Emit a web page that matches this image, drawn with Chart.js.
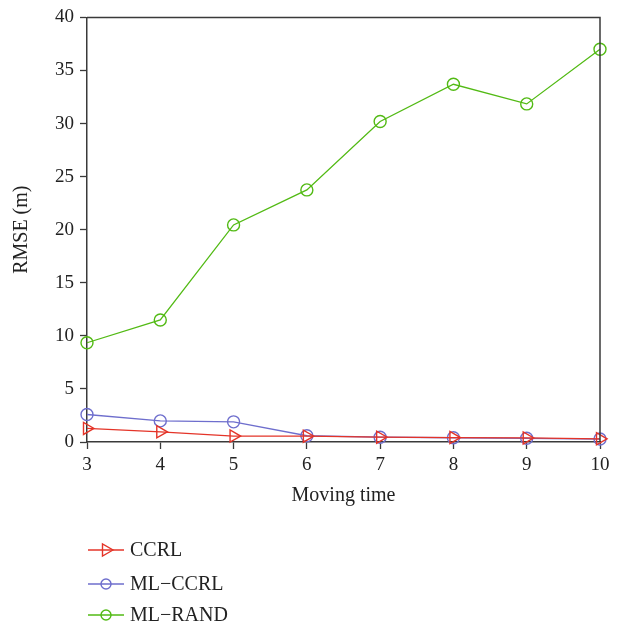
<!DOCTYPE html>
<html>
<head>
<meta charset="utf-8">
<script src="https://cdn.jsdelivr.net/npm/chart.js@4"></script>
<style>
  html, body { margin: 0; padding: 0; background: #fff; }
  #wrap { width: 622px; height: 625px; }
</style>
</head>
<body>
<div id="wrap"><canvas id="myChart"></canvas></div>
<script>
// moving time steps and RMSE (m) per method
const movingTime = [3, 4, 5, 6, 7, 8, 9, 10];
const ccrl   = [1.28, 0.96, 0.56, 0.55, 0.45, 0.42, 0.38, 0.30];
const mlCcrl = [2.59, 1.99, 1.90, 0.59, 0.45, 0.40, 0.35, 0.28];
const mlRand = [9.35, 11.5, 20.45, 23.75, 30.2, 33.7, 31.85, 37.0];
const yTicks = [0, 5, 10, 15, 20, 25, 30, 35, 40];

const serif = '"Liberation Serif", "Times New Roman", serif';
const axisColor = '#3a3a3a';

function pts(values) {
  return movingTime.map(function(t, i) { return {x: t, y: values[i]}; });
}

// box round the plot, ticks only on left and bottom
const frame = {
  id: 'frame',
  afterDraw(chart) {
    const {ctx, chartArea: a} = chart;
    ctx.save();
    ctx.strokeStyle = axisColor;
    ctx.lineWidth = 1.5;
    ctx.beginPath();
    ctx.moveTo(a.left, a.top);
    ctx.lineTo(a.right, a.top);
    ctx.lineTo(a.right, a.bottom);
    ctx.stroke();
    ctx.restore();
  }
};

// stacked legend under the x axis
const stackedLegend = {
  id: 'stackedLegend',
  afterDraw(chart) {
    const ctx = chart.ctx;
    const rows = [550, 584, 615];
    ctx.save();
    chart.data.datasets.forEach(function(ds, i) {
      const y = rows[i];
      ctx.strokeStyle = ds.borderColor;
      ctx.lineWidth = 1.4;
      ctx.beginPath();
      ctx.moveTo(88, y);
      ctx.lineTo(124, y);
      ctx.stroke();
      ctx.fillStyle = 'rgba(0,0,0,0)';
      Chart.helpers.drawPoint(ctx, {
        pointStyle: ds.pointStyle,
        radius: ds.legendRadius,
        rotation: ds.pointRotation || 0,
        borderWidth: 1.4
      }, 106, y);
      ctx.fillStyle = '#222';
      ctx.font = '20px ' + serif;
      ctx.textBaseline = 'middle';
      ctx.fillText(ds.label, 130, y + 1);
    });
    ctx.restore();
  }
};

const data = {
  datasets: [
    {
      label: 'CCRL',
      data: pts(ccrl),
      borderColor: 'rgb(228, 52, 40)',
      backgroundColor: 'rgba(0,0,0,0)',
      pointStyle: 'triangle',
      pointRotation: 90,
      pointRadius: 7,
      legendRadius: 7,
      borderWidth: 1.3,
      pointBorderWidth: 1.4,
      clip: false
    },
    {
      label: 'ML\u2212CCRL',
      data: pts(mlCcrl),
      borderColor: 'rgb(110, 110, 205)',
      backgroundColor: 'rgba(0,0,0,0)',
      pointStyle: 'circle',
      pointRadius: 6,
      legendRadius: 5,
      borderWidth: 1.3,
      pointBorderWidth: 1.4,
      clip: false
    },
    {
      label: 'ML\u2212RAND',
      data: pts(mlRand),
      borderColor: 'rgb(82, 186, 20)',
      backgroundColor: 'rgba(0,0,0,0)',
      pointStyle: 'circle',
      pointRadius: 6,
      legendRadius: 5,
      borderWidth: 1.3,
      pointBorderWidth: 1.4,
      clip: false
    }
  ]
};

const config = {
  type: 'line',
  data: data,
  options: {
    responsive: true,
    maintainAspectRatio: false,
    animation: false,
    layout: { padding: { top: 14, right: 22, left: 0, bottom: 113 } },
    plugins: {
      legend: { display: false },
      tooltip: { enabled: false }
    },
    scales: {
      x: {
        type: 'linear',
        min: 3,
        max: 10,
        afterFit(scale) { scale.height = 70; },
        afterBuildTicks(scale) { scale.ticks = movingTime.map(function(v) { return {value: v}; }); },
        grid: { drawOnChartArea: false, drawTicks: true, tickLength: 7, tickColor: axisColor, tickWidth: 1.3 },
        border: { display: true, color: axisColor, width: 1.5 },
        ticks: { color: '#222', font: { family: serif, size: 19 }, padding: 5 },
        title: { display: true, text: 'Moving time', color: '#222', font: { family: serif, size: 20 }, padding: { top: 4, bottom: 4 } }
      },
      y: {
        min: 0,
        max: 40,
        afterFit(scale) { scale.width = 87; },
        afterBuildTicks(scale) { scale.ticks = yTicks.map(function(v) { return {value: v}; }); },
        grid: { drawOnChartArea: false, drawTicks: true, tickLength: 7, tickColor: axisColor, tickWidth: 1.3 },
        border: { display: true, color: axisColor, width: 1.5 },
        ticks: { color: '#222', font: { family: serif, size: 19 }, padding: 6 },
        title: { display: true, text: 'RMSE (m)', color: '#222', font: { family: serif, size: 20 }, padding: { top: 10, bottom: 4 } }
      }
    }
  },
  plugins: [frame, stackedLegend]
};

const myChart = new Chart(document.getElementById('myChart'), config);
</script>
</body>
</html>
